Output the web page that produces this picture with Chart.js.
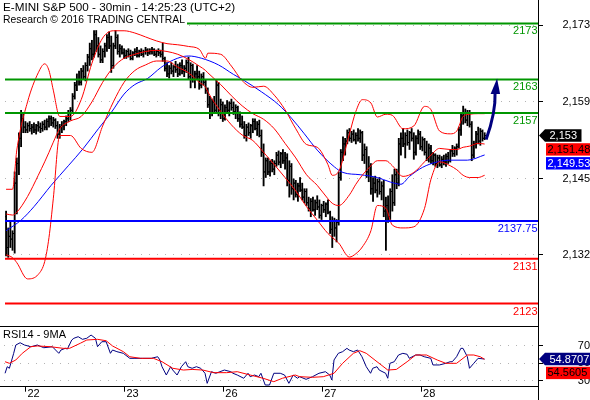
<!DOCTYPE html>
<html>
<head>
<meta charset="utf-8">
<title>E-MINI S&amp;P 500 - 30min</title>
<script src="https://cdn.jsdelivr.net/npm/chart.js@4/dist/chart.umd.min.js"></script>
<style>
  html, body { margin:0; padding:0; background:#ffffff; }
  #wrap { position:relative; width:590px; height:400px; overflow:hidden; background:#fff; }
  #mainChart { position:absolute; left:0; top:0; width:590px; height:322px; }
  #rsiChart { position:absolute; left:0; top:322px; width:590px; height:78px; }
</style>
</head>
<body>
<div id="wrap">
  <canvas id="mainChart" width="590" height="322"></canvas>
  <canvas id="rsiChart" width="590" height="78"></canvas>
</div>
<script>
// ---------------- DATA ----------------
const titleLines = ['E-MINI S&P 500 - 30min - 14:25:23 (UTC+2)', 'Research \u00A9 2016 TRADING CENTRAL'];
const rsiTitle = 'RSI14 - 9MA';

const dayTickIdx = [9.5, 55.5, 101.5, 147.5, 193.5];
const dayLabels = ['22', '23', '26', '27', '28'];

const priceTicks = [2131.67, 2145.33, 2159, 2172.67];
const rsiTicks = [30, 50, 70];

const levelValues = [2173, 2163, 2157, 2137.75, 2131, 2123];
const levelLabels = ['2173', '2163', '2157', '2137.75', '2131', '2123'];
const levelColors = ['#009600', '#009600', '#009600', '#0000ff', '#ff0000', '#ff0000'];

const barOpen = [
  2138.5,2133,2135,2134.5,2135.5,2144.5,2148,2152.5,2156,2154.5,
  2154,2154.75,2154.25,2154.5,2154,2154.75,2154.5,2154.25,2155,2154.5,
  2155.5,2156,2155.25,2155.75,2154.75,2153.25,2154.5,2154.75,2155.5,2156,
  2157,2157.5,2160,2162,2163,2162.5,2164.5,2163.5,2165.5,2167,
  2168.5,2167.5,2171,2169,2167.5,2166.5,2168,2169,2170.5,2169,
  2165.5,2169,2170.5,2168,2168.5,2167.75,2167.25,2168,2167.5,2166.75,
  2167.75,2168,2167.25,2168,2167.5,2168,2168.25,2167.75,2168,2168.25,
  2167.5,2168,2167.75,2167.5,2166.75,2165,2164,2165,2164.5,2165.25,
  2164.75,2164,2165.5,2164.5,2165,2166,2163.5,2165.5,2163,2164,
  2163.5,2162,2163.5,2162.5,2161,2158.5,2157,2159,2157.5,2162,
  2157.5,2158.5,2156,2158,2157.5,2158.75,2158,2157.25,2158,2156,
  2155,2154.5,2153,2154.5,2153.5,2154.75,2155.5,2154.25,2155,2153,
  2150,2146.5,2148.5,2146.5,2148,2147,2148,2149.5,2148.25,2149.75,
  2148.5,2149,2145,2147.5,2143.5,2144.5,2142.5,2144,2143.25,2142,
  2143,2141,2140,2141.25,2139.75,2141,2140.25,2138.75,2140.5,2139.75,
  2140.75,2139.25,2136.25,2137.75,2136.5,2137.5,2145.5,2150,2151.5,2152,
  2153.5,2152.5,2153.25,2152.25,2153,2152.5,2153.5,2149.5,2150.5,2146.5,
  2147.5,2143.5,2144.5,2143.25,2144.75,2143,2144,2139.5,2140.5,2138.5,
  2143,2141,2146,2144.5,2151.5,2152.5,2151.5,2153,2151.75,2153.5,
  2152.5,2150,2152.5,2153.25,2151,2152.25,2150,2149,2150.75,2148.5,
  2149.5,2148,2149,2147.75,2148.75,2148.25,2149.25,2148.5,2150.25,2149.75,
  2150.75,2151,2154,2156.5,2157,2155.75,2157,2155,2149.5,2151.5,
  2153.25,2152,2153.75,2152.5
];
const barHigh = [
  2139.5,2136.5,2137.5,2136,2146.5,2149,2153.5,2157.5,2157,2155.5,
  2155.25,2155.5,2155,2155.25,2155,2155.5,2155.25,2155.5,2155.75,2156,
  2156.5,2156.5,2156.25,2156,2155.5,2155,2155.5,2155.75,2156.5,2157.5,
  2158,2160.5,2162.5,2164,2164.5,2165,2165.5,2166,2167.5,2169.5,
  2170,2171.75,2171.75,2170.5,2169,2168.5,2169.5,2171,2171.5,2170.75,
  2169.5,2171.75,2171,2169.25,2169,2168.5,2168.25,2168.5,2168.25,2168,
  2168.5,2168.75,2168.25,2168.5,2168.25,2168.75,2168.5,2168.5,2168.75,2168.5,
  2168.25,2168.5,2168.25,2169.5,2167,2166,2165.5,2166,2165.5,2166.25,
  2165.75,2166,2166.5,2165.5,2166.5,2167,2166,2165.75,2164.5,2165.5,
  2164.5,2164,2164.25,2163,2161.5,2160,2159.5,2160,2163,2162.5,
  2159.5,2159,2158.5,2159.25,2159,2159.5,2159,2158.5,2158.25,2157.25,
  2156.5,2155.5,2155,2155.25,2155,2156,2156,2155.5,2155.75,2154,
  2151.5,2149,2149,2148.5,2148.75,2148.5,2150,2150.25,2150,2150.5,
  2150,2149.75,2148.5,2148,2145.25,2145,2144.5,2145.5,2144.5,2143.5,
  2143.5,2142,2141.75,2142,2141.5,2142.25,2141.5,2140.75,2141.25,2141,
  2141.5,2139.5,2138.5,2138.25,2138,2146.5,2150.5,2152.75,2152.5,2154,
  2154.25,2153.75,2154,2153.5,2154.25,2154,2153.75,2151.5,2151,2149.25,
  2148,2145.5,2145.75,2145.25,2145.5,2144.75,2145,2142,2142.25,2143.5,
  2146,2147,2147,2152.5,2153.5,2154.25,2153.5,2154,2153.75,2154.25,
  2153.5,2153,2154,2153.75,2152.75,2152.5,2152,2151.5,2151.25,2150,
  2149.75,2149.5,2149.5,2149.25,2149.5,2149.75,2150,2150.5,2151.25,2151,
  2151.5,2154.5,2157,2158.25,2157.75,2157.5,2157.5,2155.5,2152,2153.75,
  2154.5,2154.25,2154,2153.5
];
const barLow = [
  2131.5,2131.25,2133,2132.5,2132,2139,2146,2151,2153.5,2153.5,
  2153.5,2153.75,2153.25,2153.5,2153.25,2153.75,2153.5,2153.75,2154,2154,
  2154.5,2154.75,2154.5,2154.25,2152.5,2152.5,2153.5,2154,2154.75,2155.5,
  2155.75,2157,2159.5,2161,2162,2162,2163,2162.75,2164.5,2165.5,
  2166.5,2167,2168,2167,2166,2166,2167,2168,2168.5,2164.25,
  2165,2168.5,2167.5,2167,2167.5,2166.75,2166.75,2167,2166.5,2166.5,
  2167.25,2167,2167,2167.25,2167,2167.5,2167.25,2167.5,2167.5,2167.25,
  2167,2167.25,2167,2166.25,2164.5,2163.5,2163.25,2164,2163.5,2164.25,
  2163.5,2163.75,2164,2163.5,2164.25,2163,2161.5,2162.5,2161.5,2163,
  2161.25,2161.5,2162,2160.5,2158,2156,2156.5,2157,2157,2156.5,
  2156,2155.5,2155.75,2157,2156.5,2157.5,2156.75,2156,2155.5,2154.5,
  2154.25,2152.5,2152,2153,2152.5,2153.5,2154,2153,2152.75,2149.25,
  2144,2145.5,2146,2145.75,2146.5,2146,2147.5,2147.75,2147.25,2148,
  2147,2144,2142,2142.5,2141.5,2142,2141.25,2143,2141.5,2141,
  2140.5,2139.5,2138.5,2139.5,2138.75,2139.75,2138.25,2138,2139.25,2138.5,
  2139,2135.5,2133,2135,2134,2137,2145,2148.5,2149.5,2151.5,
  2152,2151.75,2152,2151.5,2152,2151.75,2148.5,2148,2145.5,2144.75,
  2142.5,2141.25,2142.75,2142,2142.5,2141.5,2138.5,2132.5,2137.5,2138,
  2139.5,2140.5,2143.5,2144,2149.5,2151,2149,2151.25,2150.5,2152,
  2148.75,2149.5,2151.5,2150.5,2150.25,2149.5,2148.5,2148.25,2148,2147.75,
  2147.5,2147.25,2147.5,2147.25,2147.75,2147.5,2148,2148.25,2149.25,2149.25,
  2149.5,2150.75,2153,2155,2155.25,2154.75,2154.5,2148.5,2149,2150.75,
  2151.5,2151.25,2152,2152.25
];
const barClose = [
  2133,2135,2134.5,2135.5,2144.5,2148,2152.5,2156,2154.5,2154,
  2154.75,2154.25,2154.5,2154,2154.75,2154.5,2154.25,2155,2154.5,2155.5,
  2156,2155.25,2155.75,2154.75,2153.25,2154.5,2154.75,2155.5,2156,2157,
  2157.5,2160,2162,2163,2162.5,2164.5,2163.5,2165.5,2167,2168.5,
  2167.5,2171,2169,2167.5,2166.5,2168,2169,2170.5,2169,2165.5,
  2169,2170.5,2168,2168.5,2167.75,2167.25,2168,2167.5,2166.75,2167.75,
  2168,2167.25,2168,2167.5,2168,2168.25,2167.75,2168,2168.25,2167.5,
  2168,2167.75,2167.5,2166.75,2165,2164,2165,2164.5,2165.25,2164.75,
  2164,2165.5,2164.5,2165,2166,2163.5,2165.5,2163,2164,2163.5,
  2162,2163.5,2162.5,2161,2158.5,2157,2159,2157.5,2162,2157.5,
  2158.5,2156,2158,2157.5,2158.75,2158,2157.25,2158,2156,2155,
  2154.5,2153,2154.5,2153.5,2154.75,2155.5,2154.25,2155,2153,2150,
  2146.5,2148.5,2146.5,2148,2147,2148,2149.5,2148.25,2149.75,2148.5,
  2149,2145,2147.5,2143.5,2144.5,2142.5,2144,2143.25,2142,2143,
  2141,2140,2141.25,2139.75,2141,2140.25,2138.75,2140.5,2139.75,2140.75,
  2139.25,2136.25,2137.75,2136.5,2137.5,2145.5,2150,2151.5,2152,2153.5,
  2152.5,2153.25,2152.25,2153,2152.5,2153.5,2149.5,2150.5,2146.5,2147.5,
  2143.5,2144.5,2143.25,2144.75,2143,2144,2139.5,2140.5,2138.5,2143,
  2141,2146,2144.5,2151.5,2152.5,2151.5,2153,2151.75,2153.5,2152.5,
  2150,2152.5,2153.25,2151,2152.25,2150,2149,2150.75,2148.5,2149.5,
  2148,2149,2147.75,2148.75,2148.25,2149.25,2148.5,2150.25,2149.75,2150.75,
  2151,2154,2156.5,2157,2155.75,2157,2155,2149.5,2151.5,2153.25,
  2152,2153.75,2152.5,2153
];

// Bollinger bands, read at these bar positions
const bandIdx = [0,3,5,10,15,18,20,22,25,30,35,40,45,50,55,60,65,70,75,80,85,90,93,94,100,105,110,115,120,125,130,135,140,145,150,152,155,160,163,166,170,173,177,180,185,190,195,198,202,207,210,213,216,220,223];
const bbUpper = [2143.4,2143.4,2150.4,2159.0,2164.2,2165.8,2164.6,2161.1,2156.4,2156.4,2159.4,2165.9,2170.4,2171.7,2171.7,2171.3,2170.6,2169.9,2169.4,2169.2,2168.9,2168.4,2166.8,2167.7,2167.5,2165.4,2162.8,2161.6,2161.8,2160.2,2157.6,2154.2,2151.4,2150.9,2147.8,2145.9,2146.6,2153.3,2157.3,2159.4,2158.8,2156.3,2156.8,2156.6,2154.2,2154.7,2158.2,2157.6,2153.8,2153.3,2153.8,2156.4,2156.8,2156.9,2156.9];
const bbMid = [2139.0,2138.8,2139.3,2142.1,2145.9,2148.3,2150.0,2151.8,2154.2,2155.6,2156.4,2159.0,2162.5,2165.2,2166.8,2167.5,2168.0,2168.2,2168.0,2167.5,2166.6,2165.4,2164.6,2164.2,2162.1,2160.1,2158.3,2156.9,2155.9,2154.2,2151.6,2149.0,2146.0,2144.1,2141.7,2140.9,2140.5,2142.4,2144.3,2145.9,2147.6,2148.5,2148.5,2147.6,2145.7,2146.4,2148.3,2149.5,2150.7,2150.5,2150.5,2150.9,2151.1,2151.6,2151.48];
const bbLower = [2131.7,2131.2,2130.3,2127.4,2128.2,2130.5,2134.8,2141.7,2153.0,2153.0,2150.7,2150.0,2154.7,2159.0,2162.5,2164.6,2165.6,2166.3,2166.3,2165.2,2164.2,2162.5,2161.6,2160.8,2157.3,2154.9,2153.1,2152.1,2150.0,2147.8,2145.5,2143.1,2140.3,2137.9,2135.5,2134.8,2133.8,2131.3,2131.9,2133.1,2136.0,2140.5,2140.0,2137.0,2136.5,2136.7,2140.0,2145.2,2148.3,2147.6,2146.9,2145.9,2145.5,2145.5,2145.9];

// moving average (blue)
const maIdx = [0,7,13,21,29,36,43,49,55,60,66,72,78,85,91,99,106,111,119,127,133,139,145,153,157,165,173,179,184,188,194,201,207,215,223];
const maVals = [2136.0,2137.9,2140.3,2144.1,2147.6,2150.7,2154.2,2157.1,2160.4,2162.1,2163.2,2165.1,2166.5,2167.2,2166.8,2165.6,2163.9,2162.8,2160.8,2158.5,2156.1,2153.3,2150.4,2147.4,2146.4,2146.0,2145.5,2144.7,2144.3,2145.7,2147.3,2148.3,2148.6,2148.6,2149.53];

// RSI(14) and its 9-period MA
const rsiIdx = [0,1,2,4,5,7,9,12,15,18,22,25,26,28,29,31,32,34,36,38,40,42,43,45,47,49,50,52,55,58,60,64,68,71,72,73,75,77,78,80,82,84,85,87,89,91,93,94,96,98,100,102,105,106,108,111,113,114,116,118,119,121,123,125,128,130,132,134,136,137,140,143,146,149,151,152,153,155,157,159,160,162,164,166,168,170,171,173,174,177,178,179,181,183,185,187,188,191,193,195,198,199,202,205,207,208,210,212,213,215,216,218,220,223];
const rsiVals = [38.6,46.1,44.3,61.4,70.9,73.5,70.9,68.9,70.9,67.8,68.9,61.4,65.2,67.1,66.3,76.6,78.6,80.4,77.4,78.6,82.3,78.6,69.0,74.7,74.7,61.4,65.2,63.3,61.4,55.7,55.7,55.7,55.7,57.5,53.8,46.1,36.6,46.1,42.3,36.6,46.1,51.8,46.1,44.3,46.1,44.3,38.6,27.1,40.4,38.6,40.4,42.3,40.4,38.6,36.6,32.9,38.6,34.7,36.6,34.7,38.6,25.2,25.2,38.6,38.6,36.6,27.1,36.6,32.9,34.7,31.7,34.7,38.6,40.4,36.6,30.9,53.8,61.4,63.3,67.1,65.2,63.3,65.2,57.5,46.1,38.6,44.3,46.1,42.3,38.6,32.9,50.0,51.8,59.5,61.4,60.3,55.7,59.5,59.5,57.5,55.7,48.1,48.1,50.0,51.8,51.8,57.5,67.1,67.1,57.5,44.3,50.0,55.7,54.8707];
const rsiMaIdx = [0,2,5,8,12,15,21,27,30,35,38,43,47,50,55,58,63,69,73,78,83,87,92,97,103,108,114,120,125,129,135,137,143,148,153,157,162,165,168,173,178,182,187,191,196,201,205,210,215,218,221,223];
const rsiMaVals = [51.8,50.0,53.8,61.4,69.0,69.8,69.0,67.1,67.1,72.9,76.6,77.4,75.8,69.8,63.3,57.5,55.7,55.7,51.8,44.3,42.3,43.0,42.3,39.3,39.3,40.4,36.6,32.9,29.0,32.9,36.6,34.7,34.0,34.7,38.6,50.0,61.4,64.4,61.4,51.8,42.3,43.0,51.8,59.5,59.5,53.8,50.0,50.0,59.5,59.5,57.5,54.5605];

// forecast arrow (bar position, price)
const arrowIdx = [223.7, 227, 228.8];
const arrowPrice = [2152.3, 2156.8, 2163.2];

// ---------------- CHART ----------------
const F = '"Liberation Sans", Arial, Helvetica, sans-serif';
Chart.defaults.font.family = F;
Chart.defaults.font.size = 11;
Chart.defaults.color = '#000';

const X_MIN = -0.5, X_MAX = 247.87;
const GRID_COLOR = '#b4b4b4';

function noPad(s) { s.paddingTop = 0; s.paddingBottom = 0; s.paddingLeft = 0; s.paddingRight = 0; }
const pts = (idx, vals) => idx.map((x, k) => ({ x: x, y: vals[k] }));

function drawTags(ctx, area, tags, canvasW) {
  const h = 12.4;
  let prevBottom = -Infinity;
  ctx.save();
  ctx.font = '11px ' + F;
  ctx.textBaseline = 'middle';
  ctx.textAlign = 'left';
  tags.forEach(t => {
    const top = Math.max(t.y - h / 2, prevBottom + 1.5);
    const mid = top + h / 2;
    const tw = ctx.measureText(t.text).width;
    ctx.fillStyle = t.bg;
    if (t.arrow) {
      const x0 = area.right + 7;
      const x1 = Math.min(x0 + tw + 9, canvasW);
      ctx.beginPath();
      ctx.moveTo(area.right + 1, mid);
      ctx.lineTo(x0, top);
      ctx.lineTo(x1, top);
      ctx.lineTo(x1, top + h);
      ctx.lineTo(x0, top + h);
      ctx.closePath();
      ctx.fill();
      ctx.fillStyle = t.fg;
      ctx.fillText(t.text, x0 + 4.5, mid + 0.5);
    } else {
      const x0 = area.right + 8;
      ctx.fillRect(x0, top, canvasW - x0, h);
      ctx.fillStyle = t.fg;
      ctx.fillText(t.text, x0 + 1.5, mid + 0.5);
    }
    prevBottom = top + h;
  });
  ctx.restore();
}

const fmtPrice = v => v.toLocaleString('en-US', { minimumFractionDigits: (v % 1 === 0 ? 0 : 2), maximumFractionDigits: 2 });

const mainDecor = {
  id: 'mainDecor',
  afterDatasetsDraw(chart) {
    const { ctx, scales: { x, y } } = chart;
    const px = arrowIdx.map(v => x.getPixelForValue(v));
    const py = arrowPrice.map(v => y.getPixelForValue(v));
    const bx = px[2] - 2, by = py[2] + 14;
    const cx = 2 * px[1] - (px[0] + bx) / 2, cy = 2 * py[1] - (py[0] + by) / 2;
    ctx.save();
    ctx.strokeStyle = '#00007f';
    ctx.fillStyle = '#00007f';
    ctx.lineWidth = 3;
    ctx.beginPath();
    ctx.moveTo(px[0], py[0]);
    ctx.quadraticCurveTo(cx, cy, bx, by);
    ctx.stroke();
    ctx.beginPath();
    ctx.moveTo(px[2], py[2]);
    ctx.lineTo(px[2] - 6.5, py[2] + 15.5);
    ctx.lineTo(px[2] + 3, py[2] + 15.5);
    ctx.closePath();
    ctx.fill();
    ctx.restore();
  },
  afterDraw(chart) {
    const { ctx, chartArea: a, scales: { y } } = chart;
    ctx.save();
    // level labels
    ctx.font = '11px ' + F;
    ctx.textAlign = 'right';
    ctx.textBaseline = 'alphabetic';
    levelValues.forEach((v, k) => {
      ctx.fillStyle = levelColors[k];
      ctx.fillText(levelLabels[k], a.right - 0.5, y.getPixelForValue(v) + 11);
    });
    // title block
    ctx.textAlign = 'left';
    ctx.font = '11.7px ' + F;
    const w1 = ctx.measureText(titleLines[0]).width;
    ctx.font = '11px ' + F;
    const w2 = Math.min(ctx.measureText(titleLines[1]).width, 182);
    ctx.fillStyle = '#ffffff';
    ctx.fillRect(0, 0, w1 + 5, 13);
    ctx.fillRect(0, 13, w2 + 5, 13);
    ctx.fillStyle = '#000';
    ctx.font = '11.7px ' + F;
    ctx.fillText(titleLines[0], 3, 11);
    ctx.font = '11px ' + F;
    ctx.fillText(titleLines[1], 3, 23.3, 182);
    // axis line
    ctx.fillStyle = '#000';
    ctx.fillRect(a.right, 0, 1, chart.height);
    ctx.restore();
    const lastClose = barClose[barClose.length - 1];
    const lastMid = bbMid[bbMid.length - 1];
    const lastMa = maVals[maVals.length - 1];
    drawTags(ctx, a, [
      { y: y.getPixelForValue(lastClose), text: fmtPrice(lastClose), bg: '#000000', fg: '#ffffff', arrow: true },
      { y: y.getPixelForValue(lastMid), text: fmtPrice(lastMid), bg: '#ff0000', fg: '#000000', arrow: false },
      { y: y.getPixelForValue(lastMa), text: fmtPrice(lastMa), bg: '#0000ff', fg: '#ffffff', arrow: false }
    ], chart.width);
  }
};

const levelDatasets = levelValues.map((v, k) => ({
  type: 'line',
  data: [{ x: X_MIN, y: v }, { x: X_MAX, y: v }],
  borderColor: levelColors[k],
  borderWidth: 2,
  pointRadius: 0,
  tension: 0
}));
const bandLine = (vals, color) => ({
  type: 'line',
  data: pts(bandIdx, vals),
  borderColor: color,
  borderWidth: 1,
  pointRadius: 0,
  cubicInterpolationMode: 'monotone'
});

new Chart(document.getElementById('mainChart'), {
  type: 'line',
  data: {
    datasets: [
      ...levelDatasets,
      bandLine(bbUpper, '#ff0000'),
      bandLine(bbMid, '#ff0000'),
      bandLine(bbLower, '#ff0000'),
      { type: 'line', data: pts(maIdx, maVals), borderColor: '#0000ff', borderWidth: 1, pointRadius: 0, cubicInterpolationMode: 'monotone' },
      { type: 'line', data: barOpen.map((v, i) => ({ x: i - 0.5, y: v })), showLine: false, pointStyle: 'line', pointRadius: 1, pointBorderWidth: 1, pointBorderColor: '#000', pointBackgroundColor: '#000' },
      { type: 'line', data: barClose.map((v, i) => ({ x: i + 0.5, y: v })), showLine: false, pointStyle: 'line', pointRadius: 1, pointBorderWidth: 1, pointBorderColor: '#000', pointBackgroundColor: '#000' },
      { type: 'bar', data: barLow.map((v, i) => ({ x: i, y: [v, barHigh[i]] })), backgroundColor: '#000', borderWidth: 0, barThickness: 1.2, grouped: false }
    ]
  },
  options: {
    responsive: false,
    animation: false,
    devicePixelRatio: 1,
    events: [],
    layout: { padding: { left: 4, right: 0, top: 0, bottom: 0 } },
    plugins: { legend: { display: false }, tooltip: { enabled: false } },
    scales: {
      x: { type: 'linear', min: X_MIN, max: X_MAX, display: false, offset: false },
      y: {
        type: 'linear', position: 'right', min: 2120.6, max: 2176.3,
        afterBuildTicks: s => { s.ticks = priceTicks.map(v => ({ value: v })); },
        afterFit: s => { s.width = 52; noPad(s); },
        ticks: { callback: v => Math.round(v).toLocaleString('en-US'), crossAlign: 'far', padding: 17.5, color: '#000', font: { size: 11 } },
        grid: { color: GRID_COLOR, lineWidth: 1, tickLength: 5, tickColor: '#000', tickWidth: 1, tickBorderDash: [], drawOnChartArea: true },
        border: { display: false, dash: [1, 7] }
      }
    }
  },
  plugins: [mainDecor]
});

const rsiDecor = {
  id: 'rsiDecor',
  afterDraw(chart) {
    const { ctx, chartArea: a, scales: { y } } = chart;
    ctx.save();
    ctx.fillStyle = '#000';
    ctx.fillRect(0, Math.round(a.top) - 1, a.right, 1);
    ctx.fillRect(0, Math.round(a.bottom) - 1, a.right, 1);
    ctx.fillRect(a.right, 0, 1, chart.height);
    ctx.font = '11px ' + F;
    ctx.textAlign = 'left';
    ctx.textBaseline = 'alphabetic';
    ctx.fillText(rsiTitle, 3, 16.3);
    ctx.restore();
    const lastRsi = rsiVals[rsiVals.length - 1];
    const lastRsiMa = rsiMaVals[rsiMaVals.length - 1];
    drawTags(ctx, a, [
      { y: y.getPixelForValue(lastRsi), text: lastRsi.toFixed(4), bg: '#000080', fg: '#ffffff', arrow: true },
      { y: y.getPixelForValue(lastRsiMa), text: lastRsiMa.toFixed(4), bg: '#ff0000', fg: '#000000', arrow: false }
    ], chart.width);
  }
};

new Chart(document.getElementById('rsiChart'), {
  type: 'line',
  data: {
    datasets: [
      { data: pts(rsiMaIdx, rsiMaVals), borderColor: '#ff0000', borderWidth: 1, pointRadius: 0, tension: 0 },
      { data: pts(rsiIdx, rsiVals), borderColor: '#000080', borderWidth: 1, pointRadius: 0, tension: 0 }
    ]
  },
  options: {
    responsive: false,
    animation: false,
    devicePixelRatio: 1,
    events: [],
    layout: { padding: { left: 4, right: 0, top: 4.7, bottom: 0 } },
    plugins: { legend: { display: false }, tooltip: { enabled: false } },
    scales: {
      x: {
        type: 'linear', min: X_MIN, max: X_MAX, position: 'bottom', offset: false,
        afterBuildTicks: s => { s.ticks = dayTickIdx.map(v => ({ value: v })); },
        afterFit: s => { s.height = 13.3; noPad(s); },
        ticks: { callback: (v, i) => dayLabels[i], align: 'start', labelOffset: 2, padding: -4.4, autoSkip: false, maxRotation: 0, minRotation: 0, color: '#000', font: { size: 11 } },
        grid: { drawOnChartArea: false, drawTicks: true, tickLength: 5, tickColor: '#000', tickWidth: 1, offset: false },
        border: { display: false }
      },
      y: {
        type: 'linear', position: 'right', min: 23.26, max: 91.83,
        afterBuildTicks: s => { s.ticks = rsiTicks.map(v => ({ value: v })); },
        afterFit: s => { s.width = 52; noPad(s); },
        ticks: { callback: v => String(v), crossAlign: 'far', padding: 33, color: '#000', font: { size: 11 } },
        grid: { color: GRID_COLOR, lineWidth: 1, tickLength: 5, tickColor: '#000', tickWidth: 1, tickBorderDash: [], drawOnChartArea: true },
        border: { display: false, dash: [1, 7] }
      }
    }
  },
  plugins: [rsiDecor]
});
</script>
</body>
</html>
